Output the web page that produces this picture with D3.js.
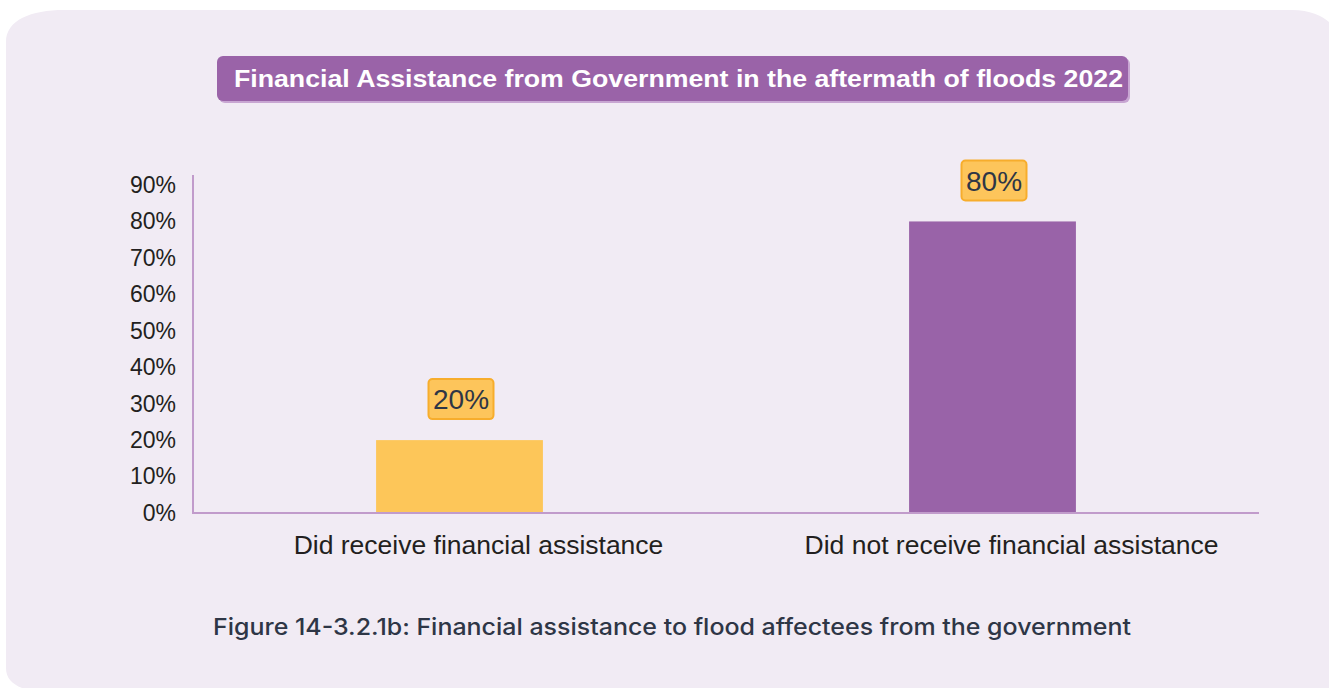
<!DOCTYPE html>
<html>
<head>
<meta charset="utf-8">
<script src="https://cdn.jsdelivr.net/npm/d3@7"></script>
<style>
  html, body { margin: 0; padding: 0; background: #ffffff; }
  svg { display: block; }
</style>
</head>
<body>
<svg id="chart" width="1329" height="688"></svg>
<script>
// Survey result: share of flood-affected households by receipt of government aid
const categories = ["Did receive financial assistance", "Did not receive financial assistance"];
const values = [20, 80];
const barColors = ["#fdc659", "#9963a8"];
const yTicks = [0, 10, 20, 30, 40, 50, 60, 70, 80, 90];
const chartTitle = "Financial Assistance from Government in the aftermath of floods 2022";
const caption = "Figure 14-3.2.1b: Financial assistance to flood affectees from the government";

const svg = d3.select("#chart");

// Background panel with soft rounded corners
const px0 = 6, py0 = 10, px1 = 1340, py1 = 688;
const panel = d3.path();
panel.moveTo(px0, py0 + 32);
panel.bezierCurveTo(px0, py0 + 10, px0 + 25, py0, px0 + 58, py0);
panel.lineTo(1292, py0);
panel.bezierCurveTo(1310, py0, 1322, py0 + 6, 1329, py0 + 12);
panel.lineTo(px1, py0 + 12);
panel.lineTo(px1, py1);
panel.lineTo(px0 + 16, py1);
panel.bezierCurveTo(px0 + 6, py1 - 4, px0, py1 - 10, px0, py1 - 20);
panel.closePath();
svg.append("path").attr("d", panel.toString()).attr("fill", "#f1ebf4");

// Plot area
const x0 = 193, x1 = 1259, yBase = 513, yTop = 175;
const y = d3.scaleLinear().domain([0, 90]).range([yBase, 185]);
const x = d3.scaleBand().domain(categories).range([x0, x1]).padding(0);
const barFrac = 0.313;
const barW = x.bandwidth() * barFrac;

// Y axis labels
const yAxis = d3.axisLeft(y).tickValues(yTicks).tickFormat(d => d + "%").tickSize(0).tickPadding(17);
const yg = svg.append("g").attr("transform", `translate(${x0},0)`).call(yAxis);
yg.select(".domain").remove();
yg.selectAll("text")
  .attr("font-family", "'Liberation Sans', Arial, sans-serif")
  .attr("font-size", 23)
  .attr("fill", "#231f20");

// Bars
svg.append("g").selectAll("rect")
  .data(values)
  .join("rect")
  .attr("x", (d, i) => x(categories[i]) + (x.bandwidth() - barW) / 2)
  .attr("y", d => y(d))
  .attr("width", barW)
  .attr("height", d => yBase - y(d))
  .attr("fill", (d, i) => barColors[i]);

// Axis lines
svg.append("line").attr("x1", x0).attr("x2", x0).attr("y1", yTop).attr("y2", yBase + 1)
  .attr("stroke", "#c19bcb").attr("stroke-width", 2);
svg.append("line").attr("x1", x0).attr("x2", x1).attr("y1", yBase).attr("y2", yBase)
  .attr("stroke", "#c19bcb").attr("stroke-width", 2);

// X axis category labels (set slightly right of the bar centres)
const xAxis = d3.axisBottom(x).tickSize(0).tickPadding(22);
const xg = svg.append("g").attr("transform", `translate(19,${yBase})`).call(xAxis);
xg.select(".domain").remove();
xg.selectAll("text")
  .attr("font-family", "'Liberation Sans', Arial, sans-serif")
  .attr("font-size", 26.5)
  .attr("fill", "#231f20");

// Value callouts
const lbl = svg.append("g").selectAll("g")
  .data(values)
  .join("g")
  .attr("transform", (d, i) => `translate(${x(categories[i]) + x.bandwidth() / 2 + 1.5},${y(d) - 41})`);
lbl.append("rect")
  .attr("x", -32.5).attr("y", -20).attr("width", 65).attr("height", 40)
  .attr("rx", 4).attr("ry", 4)
  .attr("fill", "#fdc55b").attr("stroke", "#f7ad2c").attr("stroke-width", 2);
lbl.append("text")
  .text(d => d + "%")
  .attr("text-anchor", "middle")
  .attr("dy", "0.36em")
  .attr("font-family", "'Liberation Sans', Arial, sans-serif")
  .attr("font-size", 28)
  .attr("fill", "#2e3646");

// Title banner
const tb = { x: 217, y: 56, w: 911, h: 45 };
svg.append("rect").attr("x", tb.x + 2).attr("y", tb.y + 2).attr("width", tb.w).attr("height", tb.h)
  .attr("rx", 6).attr("fill", "#c8a6d2");
svg.append("rect").attr("x", tb.x).attr("y", tb.y).attr("width", tb.w).attr("height", tb.h)
  .attr("rx", 6).attr("fill", "#9a63a8");
svg.append("text")
  .attr("x", 234).attr("y", tb.y + tb.h / 2)
  .attr("dy", "0.36em")
  .attr("font-family", "'Liberation Sans', Arial, sans-serif")
  .attr("font-weight", "bold")
  .attr("font-size", 24.5)
  .attr("textLength", 889)
  .attr("lengthAdjust", "spacingAndGlyphs")
  .attr("fill", "#ffffff")
  .text(chartTitle);

// Figure caption
svg.append("text")
  .attr("x", 213).attr("y", 627)
  .attr("dy", "0.36em")
  .attr("font-family", "Inter, 'Open Sans', sans-serif")
  .attr("font-weight", 500)
  .attr("font-size", 23)
  .attr("textLength", 918)
  .attr("lengthAdjust", "spacingAndGlyphs")
  .attr("fill", "#2e3646")
  .text(caption);
</script>
</body>
</html>
